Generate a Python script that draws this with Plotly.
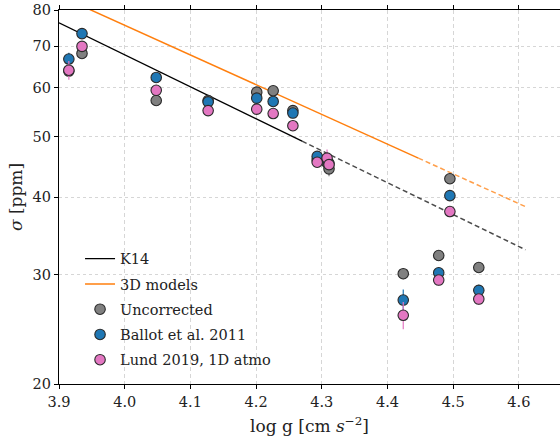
import plotly.graph_objects as go

# ---- data ----
logg = [3.915, 3.935, 4.048, 4.127, 4.201, 4.226, 4.256, 4.293, 4.308, 4.311, 4.424, 4.478, 4.495, 4.539]
uncorrected = [63.8, 68.1, 57.2, 57.2, 59.0, 59.3, 55.1, 45.9, 45.4, 44.4, 30.1, 32.2, 42.8, 30.8]
uncorrected_err = [1.0, 0.8, 0.8, 0.8, 0.8, 0.8, 0.8, 0.8, 0.8, 1.2, 0.6, 0.6, 0.8, 0.6]
ballot = [66.7, 73.3, 62.3, 56.9, 57.7, 57.0, 54.6, 46.5, 45.8, 45.3, 27.3, 30.2, 40.2, 28.3]
ballot_err = [1.6, 0.8, 0.8, 0.8, 0.8, 0.8, 0.8, 0.8, 0.8, 0.8, 1.1, 0.6, 0.8, 0.6]
lund = [64.0, 69.9, 59.4, 55.1, 55.4, 54.5, 52.1, 45.5, 46.2, 45.1, 25.8, 29.4, 37.9, 27.4]
lund_err = [2.2, 0.8, 0.8, 0.8, 0.8, 0.8, 0.8, 0.8, 1.5, 0.8, 1.3, 0.6, 0.8, 0.6]

# scaling relations (end points of each segment)
k14_solid_x = [3.90, 4.27]
k14_solid_y = [76.3, 49.2]
k14_dash_x = [4.27, 4.61]
k14_dash_y = [49.2, 32.9]
mod3d_solid_x = [3.90, 4.447]
mod3d_solid_y = [84.4, 46.2]
mod3d_dash_x = [4.447, 4.61]
mod3d_dash_y = [46.2, 38.6]

xticks = [3.9, 4.0, 4.1, 4.2, 4.3, 4.4, 4.5, 4.6]
yticks = [20, 30, 40, 50, 60, 70, 80]

FONT = "DejaVu Serif"

fig = go.Figure()

fig.add_trace(go.Scatter(x=k14_solid_x, y=k14_solid_y, mode="lines", name="K14",
                         line=dict(color="black", width=1.3), legendgroup="a"))
fig.add_trace(go.Scatter(x=k14_dash_x, y=k14_dash_y, mode="lines", showlegend=False,
                         line=dict(color="black", width=1.5, dash="5px,3px"), opacity=0.7,
                         legendgroup="a"))
fig.add_trace(go.Scatter(x=mod3d_solid_x, y=mod3d_solid_y, mode="lines", name="3D models",
                         line=dict(color="#ff7f0e", width=1.5), legendgroup="b"))
fig.add_trace(go.Scatter(x=mod3d_dash_x, y=mod3d_dash_y, mode="lines", showlegend=False,
                         line=dict(color="#ff7f0e", width=1.5, dash="5px,3px"), opacity=0.75,
                         legendgroup="b"))

series = [
    ("Uncorrected", uncorrected, uncorrected_err, "#808080", "c"),
    ("Ballot et al. 2011", ballot, ballot_err, "#1f77b4", "d"),
    ("Lund 2019, 1D atmo", lund, lund_err, "#e377c2", "e"),
]
for name, vals, errs, col, grp in series:
    fig.add_trace(go.Scatter(
        x=logg, y=vals, mode="markers", name=name, legendgroup=grp,
        marker=dict(size=10.5, color=col, line=dict(color="#2a2a2a", width=1.1)),
        error_y=dict(type="data", array=errs, color=col, thickness=1.2, width=0),
    ))

axis_common = dict(
    showline=True, linecolor="black", linewidth=1.2,
    ticks="outside", ticklen=4, tickwidth=1, tickcolor="black",
    tickfont=dict(family=FONT, size=14.5, color="#222"),
    showgrid=True, gridcolor="#d6d6d6", gridwidth=0.9, zeroline=False,
    automargin=False,
)

fig.update_layout(
    width=560, height=445,
    margin=dict(l=59, r=0, t=10, b=61),
    paper_bgcolor="white", plot_bgcolor="white",
    font=dict(family=FONT, color="#222"),
    xaxis=dict(axis_common, range=[3.9, 4.6626], tickvals=xticks, ticktext=[f"{t:.1f}" for t in xticks],
               griddash="4px,3px", mirror="ticks",
               title=dict(text="log g [cm <i>s</i><sup>−2</sup>]", font=dict(family=FONT, size=17), standoff=11)),
    yaxis=dict(axis_common, type="log", range=[1.30103, 1.90309], tickvals=yticks,
               ticktext=[str(t) for t in yticks], griddash="dot",
               title=dict(text="<i>σ</i> [ppm]", font=dict(family=FONT, size=17), standoff=5)),
    legend=dict(x=0.042, y=0.022, xanchor="left", yanchor="bottom", bgcolor="rgba(0,0,0,0)",
                font=dict(family=FONT, size=14.5, color="#222"), tracegroupgap=3.4),
    showlegend=True,
)

fig.write_html("out.html", config={"displayModeBar": False},
               post_script="document.body.style.margin='0';")
